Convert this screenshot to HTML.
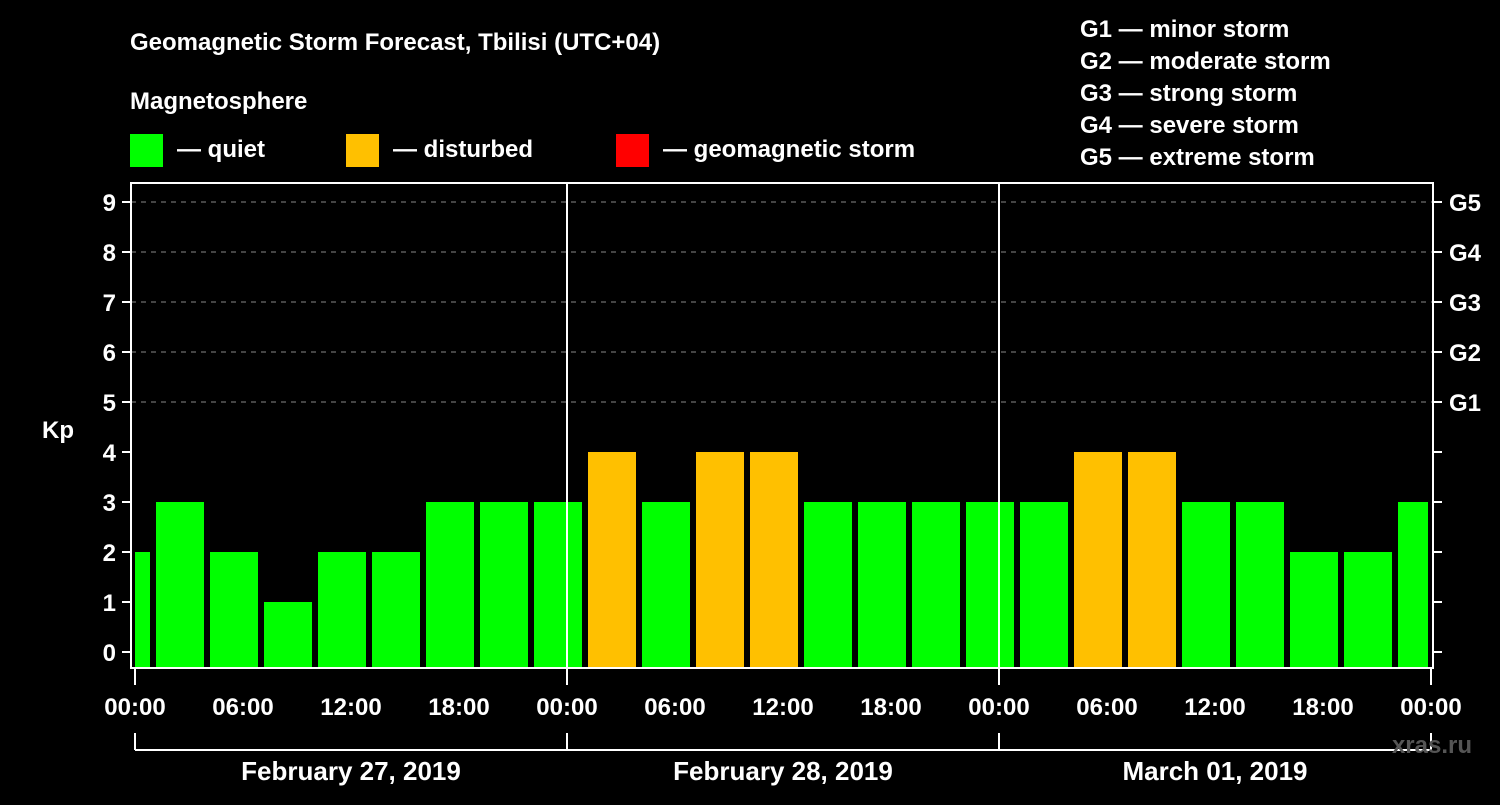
<!DOCTYPE html>
<html><head><meta charset="utf-8"><style>
body{margin:0;background:#000;width:1500px;height:800px;overflow:hidden}
text{font-family:"Liberation Sans",sans-serif;font-weight:bold;fill:#fff}
</style></head><body>
<svg id="c" width="1500" height="800">
<text x="130" y="50" font-size="24">Geomagnetic Storm Forecast, Tbilisi (UTC+04)</text>
<text x="130" y="109" font-size="24">Magnetosphere</text>
<g><rect x="130" y="134" width="33" height="33" fill="#00ff00"/><text x="177" y="157" font-size="24">— quiet</text></g>
<g><rect x="346" y="134" width="33" height="33" fill="#ffc000"/><text x="393" y="157" font-size="24">— disturbed</text></g>
<g><rect x="616" y="134" width="33" height="33" fill="#ff0000"/><text x="663" y="157" font-size="24">— geomagnetic storm</text></g>
<g font-size="24">
<text x="1080" y="37">G1 — minor storm</text><text x="1080" y="69">G2 — moderate storm</text><text x="1080" y="101">G3 — strong storm</text><text x="1080" y="133">G4 — severe storm</text><text x="1080" y="165">G5 — extreme storm</text></g>
<text x="42" y="438" font-size="24">Kp</text>
<g id="grid"></g><g id="bars"></g><g id="axes"></g>
<text x="1472" y="753" font-size="24" text-anchor="end" fill="#555" style="fill:#555">xras.ru</text>
</svg>
<script>
const kpValues=[2,3,2,1,2,2,3,3,3,4,3,4,4,3,3,3,3,3,4,4,3,3,2,2,3];
const yTicks=[0,1,2,3,4,5,6,7,8,9];
const gLabels=["G1","G2","G3","G4","G5"];
const xLabels=["00:00","06:00","12:00","18:00","00:00","06:00","12:00","18:00","00:00","06:00","12:00","18:00","00:00"];
const dayLabels=["February 27, 2019","February 28, 2019","March 01, 2019"];
const NS="http://www.w3.org/2000/svg";
const L=131,R=1433,T=183,B=668,X0=135,PH=18;
const y=v=>652-50*v, x=h=>X0+h*PH;
function mk(p,tag,a,txt){const e=document.createElementNS(NS,tag);for(const k in a)e.setAttribute(k,a[k]);if(txt!=null)e.textContent=txt;document.getElementById(p).appendChild(e);return e;}
yTicks.forEach(v=>{if(v>=5){const g=mk('grid','line',{x1:L,x2:R,y1:y(v),y2:y(v),stroke:'#888','stroke-dasharray':'5,5','stroke-width':1});

}});
kpValues.forEach((v,i)=>{const c=-0.5+3*i;let a=x(c)-24,b=x(c)+24;a=Math.max(a,X0);b=Math.min(b,1428);
const r=mk('bars','rect',{x:a,y:y(v),width:b-a,height:B-y(v),fill:v>=5?'#ff0000':v>=4?'#ffc000':'#00ff00'});

});
const ax=mk('axes','rect',{x:L,y:T,width:R-L,height:B-T,fill:'none',stroke:'#fff','stroke-width':2});


[24,48].forEach(h=>mk('axes','line',{x1:x(h),x2:x(h),y1:T,y2:B,stroke:'#fff','stroke-width':2}));
yTicks.forEach(v=>{mk('axes','line',{x1:L-9,x2:L,y1:y(v),y2:y(v),stroke:'#fff','stroke-width':2});
mk('axes','line',{x1:R,x2:R+9,y1:y(v),y2:y(v),stroke:'#fff','stroke-width':2});
const t=mk('axes','text',{x:116,y:y(v)+9,'font-size':24,'text-anchor':'end'},String(v));

});
gLabels.forEach((g,i)=>{const t=mk('axes','text',{x:1449,y:y(5+i)+9,'font-size':24},g);

});
xLabels.forEach((s,i)=>{const h=i*6;if(i%4==0)mk('axes','line',{x1:x(h),x2:x(h),y1:B,y2:685,stroke:'#fff','stroke-width':2});
const t=mk('axes','text',{x:x(h),y:715,'font-size':24,'text-anchor':'middle'},s);

});
mk('axes','line',{x1:x(0),x2:x(72),y1:750,y2:750,stroke:'#fff','stroke-width':2});
[0,24,48,72].forEach(h=>mk('axes','line',{x1:x(h),x2:x(h),y1:733,y2:750,stroke:'#fff','stroke-width':2}));
dayLabels.forEach((s,i)=>{const t=mk('axes','text',{x:x(12+24*i),y:780,'font-size':26,'text-anchor':'middle'},s);

});
</script>
</body></html>
